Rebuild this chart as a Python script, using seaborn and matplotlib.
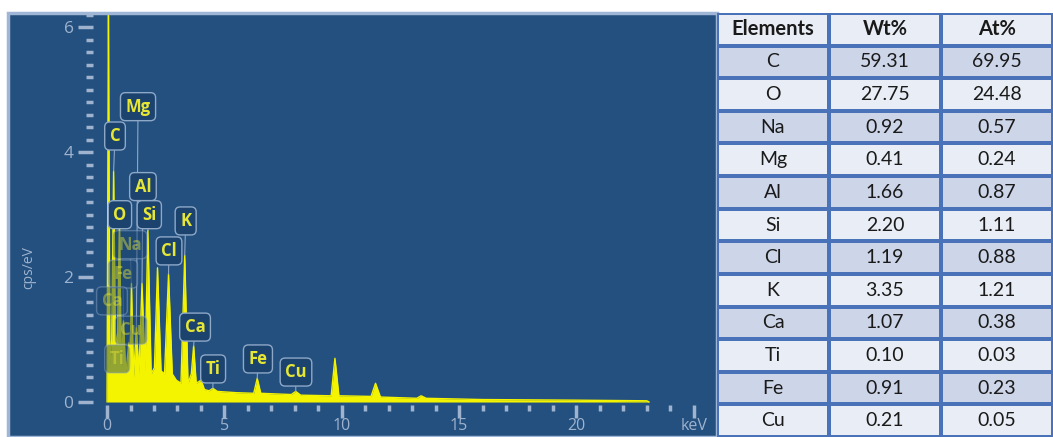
import numpy as np
import pandas as pd
import matplotlib
import matplotlib.pyplot as plt
from matplotlib.colors import ListedColormap
from matplotlib.patches import Rectangle
from matplotlib.ticker import FixedLocator

matplotlib.use("Agg")
import seaborn as sns

sns.set_style("white")
plt.rcParams['font.family'] = ['Open Sans', 'DejaVu Sans']

# ***** EDS spectrum (keV, cps/eV) *****
energy = [0.00, 0.06, 0.12, 0.20, 0.28, 0.36, 0.45, 0.53, 0.61, 0.70, 0.80, 0.93, 0.98,
          1.04, 1.13, 1.25, 1.36, 1.49, 1.62, 1.74, 1.88, 2.02, 2.15, 2.30, 2.45, 2.62,
          2.78, 2.95, 3.15, 3.31, 3.45, 3.59, 3.69, 3.80, 4.01, 4.15, 4.35, 4.51, 4.70,
          5.50, 6.25, 6.40, 6.55, 7.85, 8.04, 8.25, 9.55, 9.71, 9.88, 11.25, 11.44, 11.65,
          13.20, 13.38, 13.60, 16.00, 20.00, 23.00, 23.10]
cps = [0.00, 6.50, 0.60, 1.00, 3.70, 0.90, 1.10, 2.90, 0.50, 1.30, 0.45, 0.95, 0.55,
       1.90, 0.40, 1.20, 0.45, 1.90, 0.50, 2.75, 0.45, 0.55, 2.15, 0.50, 0.45, 2.05,
       0.45, 0.35, 0.30, 2.35, 0.30, 0.45, 0.90, 0.30, 0.35, 0.20, 0.18, 0.22, 0.17,
       0.15, 0.14, 0.38, 0.14, 0.12, 0.17, 0.11, 0.10, 0.70, 0.10, 0.09, 0.30, 0.08,
       0.06, 0.10, 0.06, 0.04, 0.03, 0.02, 0.00]

# peak labels: name, line energy
peak_names = ["Mg", "C", "Al", "O", "Si", "K", "Na", "Cl", "Fe", "Ca", "Cu", "Ti",
              "Ca", "Ti", "Fe", "Cu"]
peak_energy = [1.25, 0.28, 1.49, 0.53, 1.74, 3.31, 1.04, 2.62, 0.70, 0.34, 0.93, 0.45,
               3.69, 4.51, 6.40, 8.04]
# box positions for the labels (keV, cps/eV) and whether the label is faded
box_xy = [(1.32, 4.73), (0.34, 4.26), (1.53, 3.45), (0.55, 3.00), (1.80, 3.00),
          (3.35, 2.90), (0.98, 2.52), (2.64, 2.42), (0.68, 2.05), (0.21, 1.62),
          (1.02, 1.15), (0.43, 0.69), (3.75, 1.20), (4.52, 0.53), (6.43, 0.69),
          (8.05, 0.48)]
faded = [False, False, False, False, False, False, True, False, True, True,
         True, True, False, False, False, False]

# ***** quantification table *****
elements = ["C", "O", "Na", "Mg", "Al", "Si", "Cl", "K", "Ca", "Ti", "Fe", "Cu"]
wt_pct = [59.31, 27.75, 0.92, 0.41, 1.66, 2.20, 1.19, 3.35, 1.07, 0.10, 0.91, 0.21]
at_pct = [69.95, 24.48, 0.57, 0.24, 0.87, 1.11, 0.88, 1.21, 0.38, 0.03, 0.23, 0.05]

df = pd.DataFrame({"energy": energy, "cps": cps})

fig = plt.figure(figsize=(10.53, 4.37), dpi=100)
ax = fig.add_axes([8 / 1053, 0, 709 / 1053, 424 / 437])
ax_t = fig.add_axes([717 / 1053, 0, 336 / 1053, 424 / 437])

# spectrum panel
tick_col = "#9fb3cf"
ax.set_facecolor("#23507e")
ax.fill_between(df["energy"], df["cps"], color="#f4f400", lw=0, zorder=2)
sns.lineplot(data=df, x="energy", y="cps", ax=ax, color="#f4f400", lw=1.0, zorder=3)
ax.set_xlim(-4.22, 25.99)
ax.set_ylim(-0.56, 6.23)

for s in ["top", "right", "left", "bottom"]:
    ax.spines[s].set_visible(False)
ax.spines["left"].set_position(("data", -0.6))
ax.spines["bottom"].set_position(("data", -0.05))

ax.set_xticks([0, 5, 10, 15, 20, 25])
ax.set_xticklabels(["0", "5", "10", "15", "20", "keV"])
ax.xaxis.set_minor_locator(FixedLocator([k for k in range(1, 25) if k % 5]))
ax.set_yticks([0, 2, 4, 6])
ax.yaxis.set_minor_locator(FixedLocator([k / 5 for k in range(1, 32) if k % 10]))
ax.tick_params(axis="x", which="major", direction="out", length=9, width=2.5,
               color=tick_col, labelcolor=tick_col, labelsize=11.5, pad=0, bottom=True)
ax.tick_params(axis="x", which="minor", direction="out", length=4.5, width=2.5,
               color=tick_col, bottom=True)
ax.tick_params(axis="y", which="major", direction="out", length=11, width=2.5,
               color=tick_col, labelcolor=tick_col, labelsize=12.5, pad=3, left=True)
ax.tick_params(axis="y", which="minor", direction="out", length=5, width=2.5,
               color=tick_col, left=True)
ax.set_xlabel("")
ax.set_ylabel("cps/eV", color=tick_col, fontsize=10)
ax.yaxis.set_label_coords(0.04, 0.4)

# panel frame
ax.add_patch(Rectangle((0, 0), 1, 1, transform=ax.transAxes, fill=False,
                       ec="#9fb6d6", lw=2.5, clip_on=False, zorder=5))

# element labels
for name, e, (bx, by), fade in zip(peak_names, peak_energy, box_xy, faded):
    top = np.interp(e, energy, cps)
    alpha = 0.45 if fade else 1.0
    ax.annotate(name, xy=(e, top), xytext=(bx, by), ha="center", va="center",
                fontsize=12, fontweight="bold", color="#e6e635", alpha=alpha,
                bbox=dict(boxstyle="round,pad=0.3", fc="#1c436e", ec="#8ea8c8",
                          lw=1, alpha=alpha),
                arrowprops=dict(arrowstyle="-", color="#8ea8c8", lw=0.8,
                                alpha=alpha, shrinkA=0, shrinkB=0),
                zorder=4)

# table drawn as a heatmap with text cells
cells = [["Elements", "Wt%", "At%"]]
for el, w, a in zip(elements, wt_pct, at_pct):
    cells.append([el, f"{w:.2f}", f"{a:.2f}"])
cells = np.array(cells)
shade = np.array([[i % 2] * 3 for i in range(len(cells))])

sns.heatmap(shade, ax=ax_t, cmap=ListedColormap(["#e9edf5", "#cdd5e9"]), cbar=False,
            annot=cells, fmt="", linewidths=1.5, linecolor="#4a72b8",
            xticklabels=False, yticklabels=False,
            annot_kws=dict(color="#1a1a1a", fontsize=14, family=["Lato", "DejaVu Sans"]))
for t in ax_t.texts[:3]:
    t.set_fontweight("bold")
    t.set_fontsize(14.5)

fig.savefig("out.png", dpi=100)
